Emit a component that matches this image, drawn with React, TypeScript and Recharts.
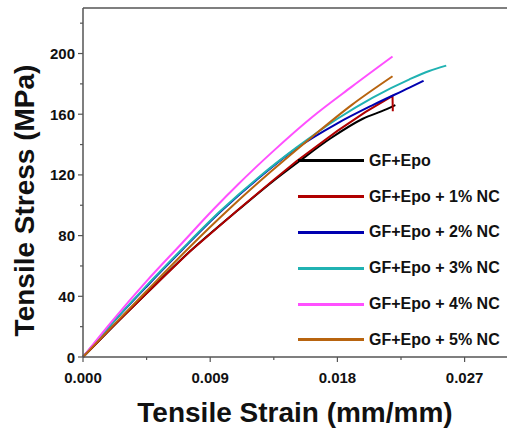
import React from 'react';
import { LineChart, Line, XAxis, YAxis, ReferenceLine, Label } from 'recharts';

// strain (mm/mm) and stress (MPa)
const strain0 = [0, 0.002, 0.0045, 0.0075, 0.011, 0.0134, 0.0153, 0.0175, 0.0198, 0.0214, 0.0221];
const stress0 = [0, 19, 42, 69, 97, 115.5, 129, 144, 157, 163, 166];

const strain1 = [0, 0.002, 0.0045, 0.0075, 0.0111, 0.0134, 0.0151, 0.018, 0.02, 0.0217, 0.0219, 0.02192];
const stress1 = [0, 19, 42, 69, 98, 116, 129, 149, 161.5, 171, 172, 162];

const strain2 = [0, 0.002, 0.0045, 0.007, 0.0097, 0.0125, 0.0151, 0.018, 0.0205, 0.0231, 0.0241];
const stress2 = [0, 21.5, 46.5, 70.5, 95.5, 118.5, 137.5, 154, 166, 177.5, 182];

const strain3 = [0, 0.002, 0.0045, 0.007, 0.0097, 0.0125, 0.0151, 0.018, 0.0205, 0.0231, 0.0245, 0.0257];
const stress3 = [0, 21.5, 47, 71, 96, 119, 138, 157, 171, 183, 188.5, 192];

const strain4 = [0, 0.002, 0.0045, 0.007, 0.0092, 0.011, 0.0135, 0.0162, 0.019, 0.0219];
const stress4 = [0, 23, 50, 75, 97, 114, 136, 158, 178, 198];

const strain5 = [0, 0.002, 0.0045, 0.0075, 0.0104, 0.0134, 0.0162, 0.019, 0.0219];
const stress5 = [0, 19.5, 43.5, 72, 98, 123, 145, 166, 185];

const seriesNames = [
  'GF+Epo',
  'GF+Epo + 1% NC',
  'GF+Epo + 2% NC',
  'GF+Epo + 3% NC',
  'GF+Epo + 4% NC',
  'GF+Epo + 5% NC',
];
const colors = ['#000000', '#b00000', '#0000b0', '#20b2b2', '#ff50ff', '#b8640f'];

const xTicks = [0, 0.0045, 0.009, 0.0135, 0.018, 0.0225, 0.027];
const xLabels = [0, 0.009, 0.018, 0.027];
const yTicks = [0, 20, 40, 60, 80, 100, 120, 140, 160, 180, 200, 220];
const yLabels = [0, 40, 80, 120, 160, 200];

const toPoints = (xs: number[], ys: number[]) => xs.map((x, i) => ({ strain: x, stress: ys[i] }));
const series = [
  toPoints(strain0, stress0),
  toPoints(strain1, stress1),
  toPoints(strain2, stress2),
  toPoints(strain3, stress3),
  toPoints(strain4, stress4),
  toPoints(strain5, stress5),
];

const font = 'Liberation Sans, Arial, sans-serif';
const axisColor = '#555';

const XTick = (props: any) => {
  const { x, y, payload } = props;
  const major = xLabels.some((v) => Math.abs(v - payload.value) < 1e-9);
  return (
    <g>
      <line x1={x} y1={y} x2={x} y2={y + (major ? 5 : 3)} stroke={axisColor} strokeWidth={1.2} />
      {major && (
        <text x={x} y={y + 26} textAnchor="middle" fontFamily={font} fontWeight="bold" fontSize={15} fill="#111">
          {payload.value.toFixed(3)}
        </text>
      )}
    </g>
  );
};

const YTick = (props: any) => {
  const { x, y, payload } = props;
  const major = yLabels.includes(payload.value);
  return (
    <g>
      <line x1={x - (major ? 5 : 3)} y1={y} x2={x} y2={y} stroke={axisColor} strokeWidth={1.2} />
      {major && (
        <text x={x - 8} y={y + 5.5} textAnchor="end" fontFamily={font} fontWeight="bold" fontSize={15} fill="#111">
          {payload.value}
        </text>
      )}
    </g>
  );
};

const LegendBox = () => (
  <div
    style={{
      position: 'absolute',
      left: 298,
      top: 143,
      fontFamily: font,
      fontWeight: 'bold',
      fontSize: 16,
      color: '#111',
      whiteSpace: 'nowrap',
    }}
  >
    {seriesNames.map((name, i) => (
      <div key={name} style={{ display: 'flex', alignItems: 'center', height: 35.8 }}>
        <div style={{ width: 66, height: 3, background: colors[i], marginRight: 5 }} />
        <span>{name}</span>
      </div>
    ))}
  </div>
);

export default function App() {
  return (
    <div style={{ position: 'absolute', left: 0, top: 0, width: 507, height: 430, overflow: 'hidden' }}>
      <LineChart width={507} height={430} margin={{ top: 8, right: 0, bottom: 0, left: 0 }}>
        <XAxis
          type="number"
          dataKey="strain"
          domain={[0, 0.03]}
          ticks={xTicks}
          tick={<XTick />}
          tickSize={0}
          tickMargin={0}
          height={73}
          stroke={axisColor}
          strokeWidth={1.5}
          allowDuplicatedCategory={false}
        >
          <Label
            content={(p: any) => (
              <text
                x={p.viewBox.x + p.viewBox.width / 2}
                y={p.viewBox.y + 65}
                textAnchor="middle"
                fontFamily={font}
                fontWeight="bold"
                fontSize={28}
                fill="#111"
              >
                Tensile Strain (mm/mm)
              </text>
            )}
          />
        </XAxis>
        <YAxis
          type="number"
          domain={[0, 230]}
          ticks={yTicks}
          tick={<YTick />}
          tickSize={0}
          tickMargin={0}
          width={83}
          stroke={axisColor}
          strokeWidth={1.5}
        >
          <Label
            content={(p: any) => {
              const cx = p.viewBox.x + 24;
              const cy = p.viewBox.y + p.viewBox.height / 2 + 18;
              return (
                <text
                  x={cx}
                  y={cy}
                  transform={`rotate(-90 ${cx} ${cy})`}
                  textAnchor="middle"
                  dominantBaseline="central"
                  fontFamily={font}
                  fontWeight="bold"
                  fontSize={28}
                  fill="#111"
                >
                  Tensile Stress (MPa)
                </text>
              );
            }}
          />
        </YAxis>
        <ReferenceLine y={230} stroke={axisColor} strokeWidth={1.5} />
        {series.map((d, i) => (
          <Line
            key={seriesNames[i]}
            data={d}
            dataKey="stress"
            name={seriesNames[i]}
            type={i === 1 ? 'linear' : 'monotone'}
            stroke={colors[i]}
            strokeWidth={2}
            dot={false}
            isAnimationActive={false}
          />
        ))}
      </LineChart>
      <LegendBox />
    </div>
  );
}
